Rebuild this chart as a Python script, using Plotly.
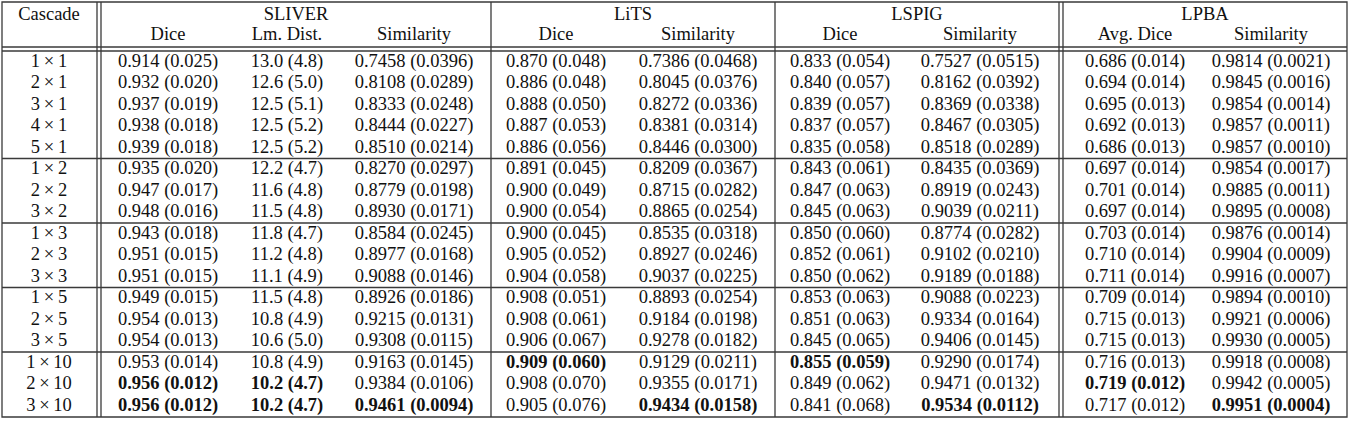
import plotly.graph_objects as go

# --- table content ---------------------------------------------------------
CASCADES = ["1×1", "2×1", "3×1", "4×1", "5×1",
            "1×2", "2×2", "3×2",
            "1×3", "2×3", "3×3",
            "1×5", "2×5", "3×5",
            "1×10", "2×10", "3×10"]
GROUP_SIZES = [5, 3, 3, 3, 3]

DATASETS = ["SLIVER", "LiTS", "LSPIG", "LPBA"]
METRICS = [["Dice", "Lm. Dist.", "Similarity"],
           ["Dice", "Similarity"],
           ["Dice", "Similarity"],
           ["Avg. Dice", "Similarity"]]

sliver_dice = ["0.914 (0.025)", "0.932 (0.020)", "0.937 (0.019)", "0.938 (0.018)", "0.939 (0.018)",
               "0.935 (0.020)", "0.947 (0.017)", "0.948 (0.016)",
               "0.943 (0.018)", "0.951 (0.015)", "0.951 (0.015)",
               "0.949 (0.015)", "0.954 (0.013)", "0.954 (0.013)",
               "0.953 (0.014)", "0.956 (0.012)", "0.956 (0.012)"]
sliver_lm = ["13.0 (4.8)", "12.6 (5.0)", "12.5 (5.1)", "12.5 (5.2)", "12.5 (5.2)",
             "12.2 (4.7)", "11.6 (4.8)", "11.5 (4.8)",
             "11.8 (4.7)", "11.2 (4.8)", "11.1 (4.9)",
             "11.5 (4.8)", "10.8 (4.9)", "10.6 (5.0)",
             "10.8 (4.9)", "10.2 (4.7)", "10.2 (4.7)"]
sliver_sim = ["0.7458 (0.0396)", "0.8108 (0.0289)", "0.8333 (0.0248)", "0.8444 (0.0227)", "0.8510 (0.0214)",
              "0.8270 (0.0297)", "0.8779 (0.0198)", "0.8930 (0.0171)",
              "0.8584 (0.0245)", "0.8977 (0.0168)", "0.9088 (0.0146)",
              "0.8926 (0.0186)", "0.9215 (0.0131)", "0.9308 (0.0115)",
              "0.9163 (0.0145)", "0.9384 (0.0106)", "0.9461 (0.0094)"]
lits_dice = ["0.870 (0.048)", "0.886 (0.048)", "0.888 (0.050)", "0.887 (0.053)", "0.886 (0.056)",
             "0.891 (0.045)", "0.900 (0.049)", "0.900 (0.054)",
             "0.900 (0.045)", "0.905 (0.052)", "0.904 (0.058)",
             "0.908 (0.051)", "0.908 (0.061)", "0.906 (0.067)",
             "0.909 (0.060)", "0.908 (0.070)", "0.905 (0.076)"]
lits_sim = ["0.7386 (0.0468)", "0.8045 (0.0376)", "0.8272 (0.0336)", "0.8381 (0.0314)", "0.8446 (0.0300)",
            "0.8209 (0.0367)", "0.8715 (0.0282)", "0.8865 (0.0254)",
            "0.8535 (0.0318)", "0.8927 (0.0246)", "0.9037 (0.0225)",
            "0.8893 (0.0254)", "0.9184 (0.0198)", "0.9278 (0.0182)",
            "0.9129 (0.0211)", "0.9355 (0.0171)", "0.9434 (0.0158)"]
lspig_dice = ["0.833 (0.054)", "0.840 (0.057)", "0.839 (0.057)", "0.837 (0.057)", "0.835 (0.058)",
              "0.843 (0.061)", "0.847 (0.063)", "0.845 (0.063)",
              "0.850 (0.060)", "0.852 (0.061)", "0.850 (0.062)",
              "0.853 (0.063)", "0.851 (0.063)", "0.845 (0.065)",
              "0.855 (0.059)", "0.849 (0.062)", "0.841 (0.068)"]
lspig_sim = ["0.7527 (0.0515)", "0.8162 (0.0392)", "0.8369 (0.0338)", "0.8467 (0.0305)", "0.8518 (0.0289)",
             "0.8435 (0.0369)", "0.8919 (0.0243)", "0.9039 (0.0211)",
             "0.8774 (0.0282)", "0.9102 (0.0210)", "0.9189 (0.0188)",
             "0.9088 (0.0223)", "0.9334 (0.0164)", "0.9406 (0.0145)",
             "0.9290 (0.0174)", "0.9471 (0.0132)", "0.9534 (0.0112)"]
lpba_dice = ["0.686 (0.014)", "0.694 (0.014)", "0.695 (0.013)", "0.692 (0.013)", "0.686 (0.013)",
             "0.697 (0.014)", "0.701 (0.014)", "0.697 (0.014)",
             "0.703 (0.014)", "0.710 (0.014)", "0.711 (0.014)",
             "0.709 (0.014)", "0.715 (0.013)", "0.715 (0.013)",
             "0.716 (0.013)", "0.719 (0.012)", "0.717 (0.012)"]
lpba_sim = ["0.9814 (0.0021)", "0.9845 (0.0016)", "0.9854 (0.0014)", "0.9857 (0.0011)", "0.9857 (0.0010)",
            "0.9854 (0.0017)", "0.9885 (0.0011)", "0.9895 (0.0008)",
            "0.9876 (0.0014)", "0.9904 (0.0009)", "0.9916 (0.0007)",
            "0.9894 (0.0010)", "0.9921 (0.0006)", "0.9930 (0.0005)",
            "0.9918 (0.0008)", "0.9942 (0.0005)", "0.9951 (0.0004)"]

COLUMNS = [sliver_dice, sliver_lm, sliver_sim, lits_dice, lits_sim,
           lspig_dice, lspig_sim, lpba_dice, lpba_sim]

# best results per column (column index, row index) -> bold
BEST = [(0, 15), (0, 16), (1, 15), (1, 16), (2, 16),
        (3, 14), (4, 16), (5, 14), (6, 16), (7, 15), (8, 16)]

# --- layout (pixel coordinates) -------------------------------------------
W, H = 1350, 421
FONT = "Liberation Serif, Times New Roman, serif"
FSIZE = 18.5
INK = "#111111"
RULE = "#3a3a3a"

CASCADE_X = 49
COL_X = [168, 287, 414, 556, 698, 840, 980, 1135, 1271]
GROUP_X = [296, 633, 917, 1205]
HEAD_Y1, HEAD_Y2 = 15, 35
BODY_TOP, ROW_H = 51.5, 21.5

LEFT, RIGHT, TOP, BOTTOM = 2, 1347, 2, 417
VLINES = [97, 101, 491, 775, 1059, 1063]
HEAD_LINES = [47, 51]


def row_y(i):
    return BODY_TOP + ROW_H * (i + 0.5)


fig = go.Figure()

# header
hx, hy, ht = [CASCADE_X], [HEAD_Y1], ["Cascade"]
for gx, name in zip(GROUP_X, DATASETS):
    hx.append(gx)
    hy.append(HEAD_Y1)
    ht.append(name)
sub = [m for ms in METRICS for m in ms]
for cx, m in zip(COL_X, sub):
    hx.append(cx)
    hy.append(HEAD_Y2)
    ht.append(m)
fig.add_trace(go.Scatter(x=hx, y=hy, text=ht, mode="text", textposition="middle center",
                         textfont={"family": FONT, "size": FSIZE, "color": INK},
                         cliponaxis=False, hoverinfo="skip", showlegend=False))

# body
bx, by, bt = [], [], []
for i, c in enumerate(CASCADES):
    bx.append(CASCADE_X)
    by.append(row_y(i))
    bt.append(c.replace("×", "\u2009×\u2009"))
for j, col in enumerate(COLUMNS):
    for i, v in enumerate(col):
        bx.append(COL_X[j])
        by.append(row_y(i))
        bt.append(f"<b>{v}</b>" if (j, i) in BEST else v)
fig.add_trace(go.Scatter(x=bx, y=by, text=bt, mode="text", textposition="middle center",
                         textfont={"family": FONT, "size": FSIZE, "color": INK},
                         cliponaxis=False, hoverinfo="skip", showlegend=False))

# rules
line = {"color": RULE, "width": 1.3}
shapes = [dict(type="rect", x0=LEFT, x1=RIGHT, y0=TOP, y1=BOTTOM, line=line)]
for vx in VLINES:
    shapes.append(dict(type="line", x0=vx, x1=vx, y0=TOP, y1=BOTTOM, line=line))
for hy_ in HEAD_LINES:
    shapes.append(dict(type="line", x0=LEFT, x1=RIGHT, y0=hy_, y1=hy_, line=line))
acc = 0
for g in GROUP_SIZES[:-1]:
    acc += g
    ys = 51 + ROW_H * acc
    shapes.append(dict(type="line", x0=LEFT, x1=RIGHT, y0=ys, y1=ys, line=line))
for s in shapes:
    s.update(xref="x", yref="y", layer="above")

fig.update_layout(
    width=W, height=H,
    margin={"l": 0, "r": 0, "t": 0, "b": 0},
    paper_bgcolor="white", plot_bgcolor="white",
    xaxis={"range": [0, W], "visible": False, "fixedrange": True},
    yaxis={"range": [H, 0], "visible": False, "fixedrange": True},
    shapes=shapes,
)

# drop the default page margin so the figure sits at the window origin
fig.write_html("out.html", config={"displayModeBar": False},
               post_script="document.body.style.margin='0';")
